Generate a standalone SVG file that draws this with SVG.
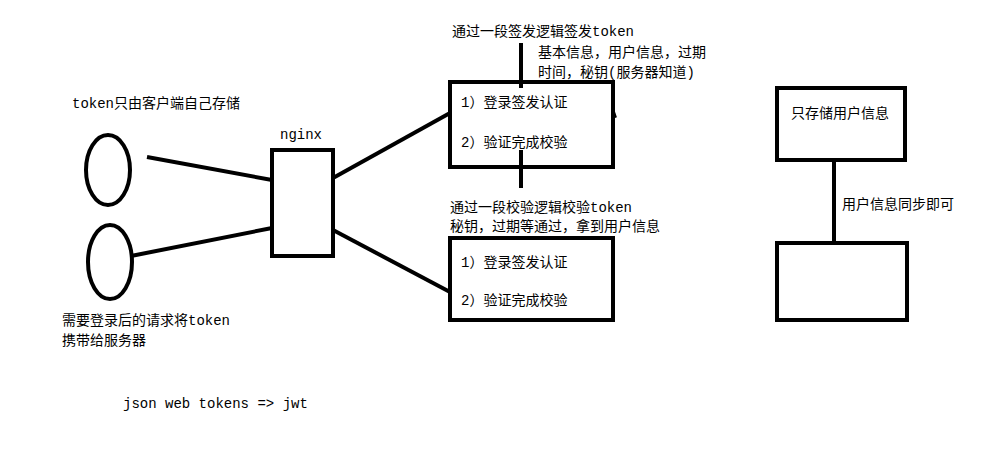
<svg xmlns="http://www.w3.org/2000/svg" width="990" height="450" viewBox="0 0 990 450">
<style>
.s{fill:none;stroke:#000;stroke-width:4}
.c{stroke:#000;stroke-width:4;fill:none}
text{font-family:"Liberation Mono","Noto Sans CJK SC",monospace;font-size:14px;fill:#000}
</style>
<rect width="990" height="450" fill="#fff"/>
<g id="connectors">
<line class="c" x1="147" y1="157" x2="272" y2="180"/>
<line class="c" x1="131" y1="256" x2="272" y2="228"/>
<line class="c" x1="333" y1="178" x2="450" y2="113"/>
<line class="c" x1="333" y1="230" x2="450" y2="292"/>
<line class="c" x1="521" y1="43" x2="521" y2="88"/>
<line class="c" x1="521" y1="150" x2="521" y2="188"/>
<line class="c" x1="834" y1="160" x2="834" y2="243"/>
<line class="c" x1="613" y1="112" x2="615" y2="118"/>
</g>
<g id="client1"><ellipse class="s" cx="108" cy="170" rx="22" ry="35"/></g>
<g id="client2"><ellipse class="s" cx="110" cy="262" rx="22" ry="37"/></g>
<g id="nginx"><rect class="s" x="272" y="150" width="61" height="106"/><text x="280" y="139" font-size="12.5">nginx</text></g>
<g id="server1"><rect class="s" x="450" y="82" width="163" height="85"/>
<text x="461" y="107">1）登录签发认证</text><text x="461" y="147">2）验证完成校验</text></g>
<g id="server2"><rect class="s" x="450" y="238" width="163" height="82"/>
<text x="461" y="267">1）登录签发认证</text><text x="461" y="305">2）验证完成校验</text></g>
<g id="store1"><rect class="s" x="777" y="88" width="128" height="72"/><text x="791" y="118">只存储用户信息</text></g>
<g id="store2"><rect class="s" x="777" y="243" width="130" height="77"/></g>
<g id="labels">
<text x="452" y="36">通过一段签发逻辑签发token</text>
<text x="538" y="57">基本信息，用户信息，过期</text>
<text x="538" y="77">时间，秘钥(服务器知道)</text>
<text x="450" y="212">通过一段校验逻辑校验token</text>
<text x="450" y="231">秘钥，过期等通过，拿到用户信息</text>
<text x="72" y="108">token只由客户端自己存储</text>
<text x="62" y="325">需要登录后的请求将token</text>
<text x="62" y="345">携带给服务器</text>
<text x="842" y="209">用户信息同步即可</text>
<text x="123" y="408" font-size="12.3">json web tokens =&gt; jwt</text>
</g>
</svg>
